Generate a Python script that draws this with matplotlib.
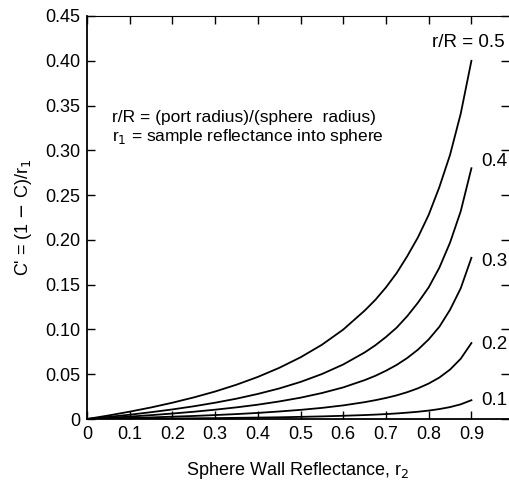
import matplotlib.pyplot as plt

plt.rcParams['font.family'] = ['Liberation Sans', 'DejaVu Sans']

# sphere wall reflectance r2
r2 = [0, 0.05, 0.1, 0.15, 0.2, 0.25, 0.3, 0.35, 0.4, 0.45,
      0.5, 0.55, 0.6, 0.65, 0.675, 0.7, 0.725, 0.75, 0.775,
      0.8, 0.825, 0.85, 0.875, 0.9]

# C' values, one list per port ratio r/R
c_05 = [0, 0.0039, 0.0082, 0.0129, 0.0182, 0.0241, 0.0307, 0.0383, 0.0470, 0.0571,
        0.0689, 0.0829, 0.0999, 0.121, 0.133, 0.147, 0.163, 0.182, 0.203,
        0.228, 0.259, 0.295, 0.341, 0.400]
c_04 = [0, 0.0023, 0.0048, 0.0076, 0.0107, 0.0142, 0.0182, 0.0227, 0.0280, 0.0341,
        0.0414, 0.0502, 0.0609, 0.0743, 0.0823, 0.0916, 0.102, 0.115, 0.130,
        0.147, 0.169, 0.197, 0.232, 0.280]
c_03 = [0, 0.0013, 0.0027, 0.0043, 0.0061, 0.0081, 0.0104, 0.0130, 0.0160, 0.0196,
        0.0238, 0.0290, 0.0353, 0.0434, 0.0482, 0.0539, 0.0604, 0.0682, 0.0775,
        0.0889, 0.103, 0.122, 0.146, 0.180]
c_02 = [0, 0.0005, 0.0011, 0.0018, 0.0026, 0.0034, 0.0044, 0.0055, 0.0068, 0.0084,
        0.0102, 0.0124, 0.0152, 0.0188, 0.0210, 0.0235, 0.0264, 0.0300, 0.0343,
        0.0396, 0.0463, 0.0552, 0.0673, 0.0848]
c_01 = [0, 0.0001, 0.0003, 0.0004, 0.0006, 0.0008, 0.0010, 0.0013, 0.0016, 0.0019,
        0.0024, 0.0029, 0.0036, 0.0044, 0.0049, 0.0055, 0.0062, 0.0071, 0.0081,
        0.0094, 0.0111, 0.0133, 0.0164, 0.0210]

curves = [c_05, c_04, c_03, c_02, c_01]
curve_labels = ['r/R = 0.5', '0.4', '0.3', '0.2', '0.1']
label_y = [0.420, 0.287, 0.176, 0.083, 0.021]

x_ticks = [0, 0.1, 0.2, 0.3, 0.4, 0.5, 0.6, 0.7, 0.8, 0.9]
x_ticklabels = ['0', '0.1', '0.2', '0.3', '0.4', '0.5', '0.6', '0.7', '0.8', '0.9']
y_ticks = [0, 0.05, 0.10, 0.15, 0.20, 0.25, 0.30, 0.35, 0.40, 0.45]
y_ticklabels = ['0', '0.05', '0.10', '0.15', '0.20', '0.25', '0.30', '0.35', '0.40', '0.45']

fig = plt.figure(figsize=(5.09, 4.82), dpi=100)
ax = fig.add_axes([87 / 509, 63 / 482, 1 - 87 / 509, 403 / 482])

for c in curves:
    ax.plot(r2, c, color='black', lw=1.3)

# curve labels at the right end
for lab, y in zip(curve_labels, label_y):
    ha = 'right' if lab.startswith('r/R') else 'left'
    xx = 0.978 if ha == 'right' else 0.922
    ax.text(xx, y, lab, ha=ha, va='center', fontsize=13.5)

ax.text(0.058, 0.337, 'r/R = (port radius)/(sphere  radius)', fontsize=12.5, va='center')
ax.text(0.058, 0.316, r'r$_1$ = sample reflectance into sphere', fontsize=12.5, va='center')

ax.set_xlim(0, 0.988)
ax.set_ylim(0, 0.45)
ax.set_xticks(x_ticks)
ax.set_xticklabels(x_ticklabels)
ax.set_yticks(y_ticks)
ax.set_yticklabels(y_ticklabels)
ax.tick_params(direction='in', length=6, width=1, labelsize=13, pad=5,
               top=True, right=True)
ax.spines['right'].set_visible(False)
for s in ['left', 'bottom']:
    ax.spines[s].set_linewidth(1.3)
ax.spines['top'].set_linewidth(0.8)

ax.set_xlabel(r'Sphere Wall Reflectance, r$_2$', fontsize=13, labelpad=12)
ax.set_ylabel(r"C' = (1 $-$ C)/r$_1$", fontsize=13, labelpad=8)

fig.savefig('out.png', dpi=100)
